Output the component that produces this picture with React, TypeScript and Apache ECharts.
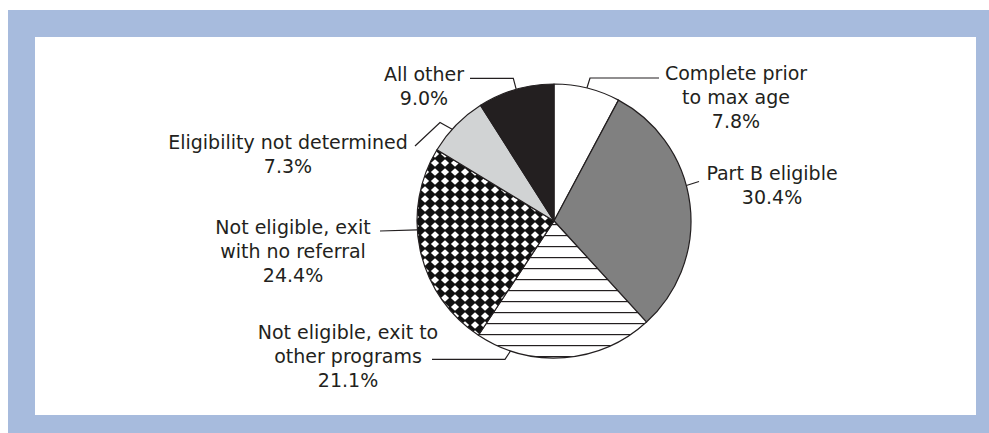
import React, { useEffect, useRef } from "react";
import * as echarts from "echarts";

// ---- data ----
const categories: string[] = [
  "Complete prior\nto max age",
  "Part B eligible",
  "Not eligible, exit to\nother programs",
  "Not eligible, exit\nwith no referral",
  "Eligibility not determined",
  "All other",
];
const values: number[] = [7.8, 30.4, 21.1, 24.4, 7.3, 9.0];

// ---- layout (chart-relative pixels) ----
const CENTER: [number, number] = [519, 184];
const RADIUS = 137;
const labelCenters: number[][] = [
  [701, 60],
  [737, 148],
  [313, 319],
  [258, 214],
  [253, 117],
  [389, 49],
];
const anchorAngles: number[] = [13.9, 75, 198.5, 266.3, 312, 344];
const leaderBends: number[][][] = [
  [[555, 41], [624, 41]],
  [[664, 144.5]],
  [[470, 322.3], [397, 322.3]],
  [[345, 194]],
  [[405, 85.5], [380, 109]],
  [[478.3, 41.3], [435, 41.3]],
];

const TEXT = "#231f20";

function stripeCanvas() {
  const c = document.createElement("canvas");
  c.width = 8;
  c.height = 11;
  const g = c.getContext("2d")!;
  g.fillStyle = "#ffffff";
  g.fillRect(0, 0, 8, 11);
  g.fillStyle = TEXT;
  g.fillRect(0, 0, 8, 1.2);
  return c;
}

function diamondCanvas() {
  const w = 10, h = 9;
  const c = document.createElement("canvas");
  c.width = w;
  c.height = h;
  const g = c.getContext("2d")!;
  g.fillStyle = "#ffffff";
  g.fillRect(0, 0, w, h);
  g.fillStyle = "#111111";
  g.beginPath();
  g.moveTo(w / 2, -0.8);
  g.lineTo(w + 0.8, h / 2);
  g.lineTo(w / 2, h + 0.8);
  g.lineTo(-0.8, h / 2);
  g.closePath();
  g.fill();
  return c;
}

export default function App() {
  const ref = useRef<HTMLDivElement>(null);
  useEffect(() => {
    if (!ref.current) return;
    const chart = echarts.init(ref.current, undefined, { renderer: "svg" });
    const fills: any[] = [
      "#ffffff",
      "#808080",
      { image: stripeCanvas(), repeat: "repeat" },
      { image: diamondCanvas(), repeat: "repeat" },
      "#d1d3d4",
      "#231f20",
    ];
    const data = categories.map((name, i) => ({
      name,
      value: values[i],
      itemStyle: { color: fills[i] },
    }));
    chart.setOption({
      animation: false,
      backgroundColor: "#ffffff",
      series: [
        {
          type: "pie",
          center: CENTER,
          radius: RADIUS,
          startAngle: 90,
          clockwise: true,
          avoidLabelOverlap: false,
          minShowLabelAngle: 0,
          itemStyle: { borderColor: TEXT, borderWidth: 1.2 },
          emphasis: { disabled: true },
          label: {
            show: true,
            position: "outside",
            formatter: (p: any) => `${p.name}\n${p.value.toFixed(1)}%`,
            fontFamily: "'DejaVu Sans', 'Open Sans', sans-serif",
            fontSize: 19,
            lineHeight: 24,
            color: TEXT,
            align: "center",
          },
          labelLine: {
            show: true,
            lineStyle: { color: TEXT, width: 1.2 },
            smooth: false,
          },
          labelLayout: (p: any) => {
            const i = p.dataIndex;
            const a = (anchorAngles[i] * Math.PI) / 180;
            const anchor = [CENTER[0] + RADIUS * Math.sin(a), CENTER[1] - RADIUS * Math.cos(a)];
            return {
              x: labelCenters[i][0],
              y: labelCenters[i][1],
              align: "center",
              verticalAlign: "middle",
              labelLinePoints: [anchor, ...leaderBends[i]],
            };
          },
          data,
        },
      ],
    });
    return () => chart.dispose();
  }, []);
  return (
    <div style={{ position: "fixed", left: 0, top: 0, width: 989, height: 433, background: "#ffffff", overflow: "hidden" }}>
      <div style={{ position: "absolute", left: 8, top: 10, width: 981, height: 423, background: "#a7bbdd" }}>
        <div style={{ position: "absolute", left: 27, top: 27, width: 941, height: 378, background: "#ffffff" }}>
          <div ref={ref} style={{ width: 941, height: 378 }} />
        </div>
      </div>
    </div>
  );
}
